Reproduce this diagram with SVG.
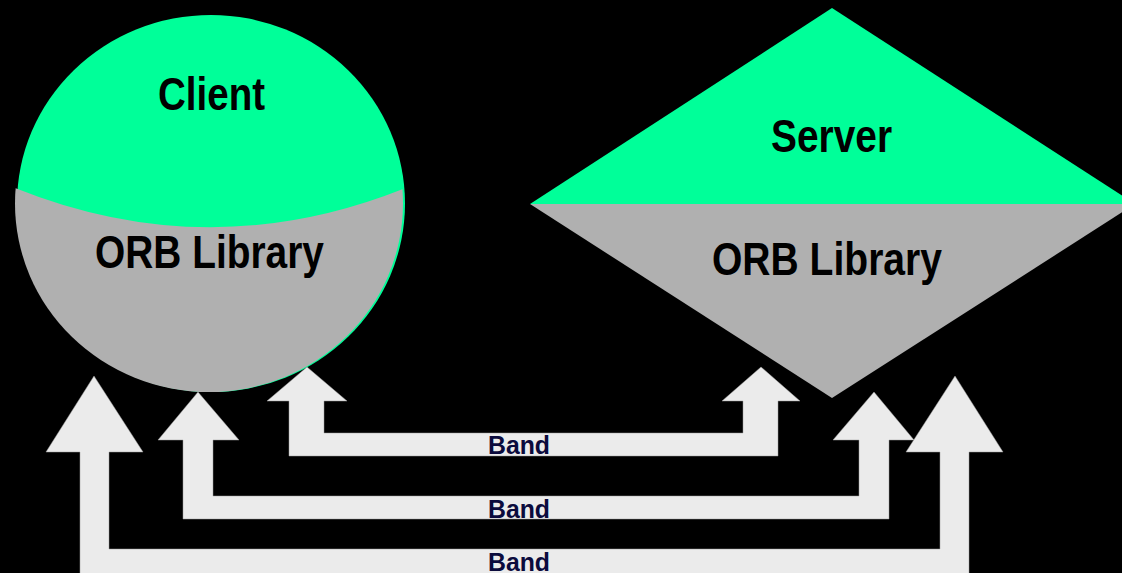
<svg xmlns="http://www.w3.org/2000/svg" width="1122" height="573" viewBox="0 0 1122 573">
  <style>
    .lbl { font-family: "Liberation Sans Narrow", "Liberation Sans", Arial, sans-serif; font-weight: bold; fill: #000000; }
    .band { fill: #EBEBEB; stroke: #9A9A9A; stroke-width: 0.5; }
    .bandlbl { font-family: "Liberation Sans Narrow", "Liberation Sans", Arial, sans-serif; font-weight: bold; font-size: 26px; fill: #0B0B3D; }
    .title { font-family: "Liberation Sans", Arial, sans-serif; font-weight: bold; font-size: 40px; fill: #FFFFFF; }
    .green { fill: #00FF99; }
    .gray { fill: #B0B0B0; }
  </style>
  <defs>
    <clipPath id="lowerClip">
      <path d="M0,187 L15,188 Q209,266 403,189 L430,189 L430,420 L0,420 Z"/>
    </clipPath>
  </defs>
  <rect x="0" y="0" width="1122" height="573" fill="#000000"/>

  <g id="title">
    <text class="title" x="343" y="-8">g</text>
    <text class="title" x="1051" y="-8">g</text>
  </g>

  <g id="client">
    <ellipse class="green" cx="211" cy="203.5" rx="194" ry="188.5"/>
    <ellipse class="gray" cx="209" cy="203.5" rx="194" ry="188.5" clip-path="url(#lowerClip)"/>
    <text class="lbl" x="158" y="110" font-size="46" textLength="107" lengthAdjust="spacingAndGlyphs">Client</text>
    <text class="lbl" x="95" y="268" font-size="46" textLength="229" lengthAdjust="spacingAndGlyphs">ORB Library</text>
  </g>

  <g id="server">
    <polygon class="green" points="832,8 1135,204 530,204"/>
    <polygon class="gray" points="530,204 1135,204 832,398"/>
    <text class="lbl" x="771" y="152" font-size="46" textLength="121" lengthAdjust="spacingAndGlyphs">Server</text>
    <text class="lbl" x="712" y="275" font-size="46" textLength="230" lengthAdjust="spacingAndGlyphs">ORB Library</text>
  </g>

  <g id="connectors">
    <path class="band" d="M289,456 L289,401 L267,401 L307,367 L347,401 L324,401 L324,433 L743,433 L743,401 L722,401 L761,367 L800,401 L778,401 L778,456 Z"/>
    <path class="band" d="M183,519 L183,440 L158,440 L198,392 L239,440 L213,440 L213,496 L859,496 L859,440 L833,440 L874,392 L914,440 L889,440 L889,519 Z"/>
    <path class="band" d="M80,580 L80,452 L46,452 L94,376 L143,452 L109,452 L109,549 L940,549 L940,452 L906,452 L955,376 L1003,452 L969,452 L969,580 Z"/>
    <text class="bandlbl" x="488" y="454" textLength="62" lengthAdjust="spacingAndGlyphs">Band</text>
    <text class="bandlbl" x="488" y="518" textLength="62" lengthAdjust="spacingAndGlyphs">Band</text>
    <text class="bandlbl" x="488" y="571" textLength="62" lengthAdjust="spacingAndGlyphs">Band</text>
  </g>
</svg>
